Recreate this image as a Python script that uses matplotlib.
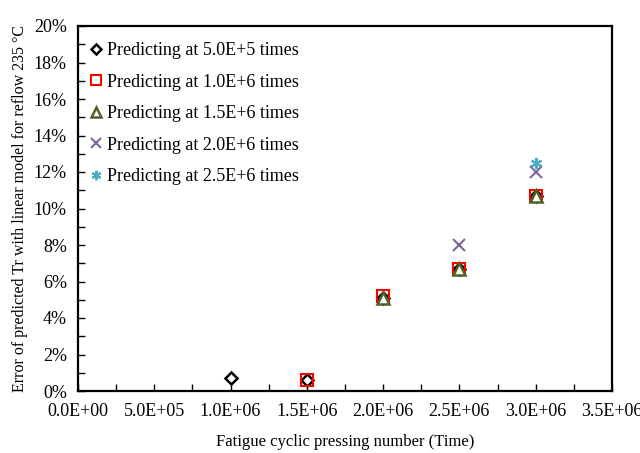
import matplotlib
matplotlib.use("Agg")
import matplotlib.pyplot as plt
from matplotlib.ticker import FuncFormatter, MultipleLocator

plt.rcParams['font.family'] = ['Liberation Serif', 'DejaVu Serif']

# data (error in %)
x_05 = [1.0e6, 1.5e6, 2.0e6, 2.5e6, 3.0e6]
y_05 = [0.7, 0.6, 5.1, 6.7, 10.7]
x_10 = [1.5e6, 2.0e6, 2.5e6, 3.0e6]
y_10 = [0.6, 5.2, 6.7, 10.7]
x_15 = [2.0e6, 2.5e6, 3.0e6]
y_15 = [5.1, 6.7, 10.7]
x_20 = [2.5e6, 3.0e6]
y_20 = [8.0, 12.0]
x_25 = [3.0e6]
y_25 = [12.5]

labels = ["Predicting at 5.0E+5 times", "Predicting at 1.0E+6 times",
          "Predicting at 1.5E+6 times", "Predicting at 2.0E+6 times",
          "Predicting at 2.5E+6 times"]

fig = plt.figure(figsize=(6.4, 4.53), dpi=100)
ax = fig.add_axes([78/640, 1 - 391/453, 534/640, 365/453])

ax.plot(x_05, y_05, ls='none', marker='D', ms=6.5, mfc='white', mec='black', mew=1.8, label=labels[0])
ax.plot(x_10, y_10, ls='none', marker='s', ms=8, mfc='none', mec='#FF0000', mew=1.5, label=labels[1])
ax.plot(x_15, y_15, ls='none', marker='^', ms=8, mfc='white', mec='#4F6228', mew=1.8, label=labels[2])
ax.plot(x_20, y_20, ls='none', marker='x', ms=8, mec='#8064A2', mew=1.5, label=labels[3])
ax.plot(x_25, y_25, ls='none', marker=(6, 2, 0), ms=8, mec='#4BACC6', mew=1.5, label=labels[4])

ax.set_xlim(0, 3.5e6)
ax.set_ylim(0, 20)
ax.xaxis.set_major_locator(MultipleLocator(5e5))
ax.xaxis.set_minor_locator(MultipleLocator(2.5e5))
ax.yaxis.set_major_locator(MultipleLocator(2))
ax.yaxis.set_minor_locator(MultipleLocator(1))
ax.xaxis.set_major_formatter(FuncFormatter(lambda v, p: "%.1E" % v))
ax.yaxis.set_major_formatter(FuncFormatter(lambda v, p: "%d%%" % round(v)))
ax.tick_params(axis='both', which='both', direction='in', length=5, width=1, labelsize=13)
ax.tick_params(axis='x', pad=9)
ax.tick_params(axis='y', pad=8)
for s in ax.spines.values():
    s.set_linewidth(1.6)

ax.set_xlabel("Fatigue cyclic pressing number (Time)", fontsize=12, labelpad=10)
ax.set_ylabel("Error of predicted Tr with linear model for reflow 235 \u00b0C", fontsize=11.5, labelpad=4)

leg = ax.legend(loc='upper left', frameon=False, fontsize=13, labelspacing=0.8,
                handlelength=0.6, handletextpad=0.3, borderaxespad=0.0,
                markerscale=0.85, bbox_to_anchor=(0.01, 0.975))

fig.savefig("out.png", dpi=100)
